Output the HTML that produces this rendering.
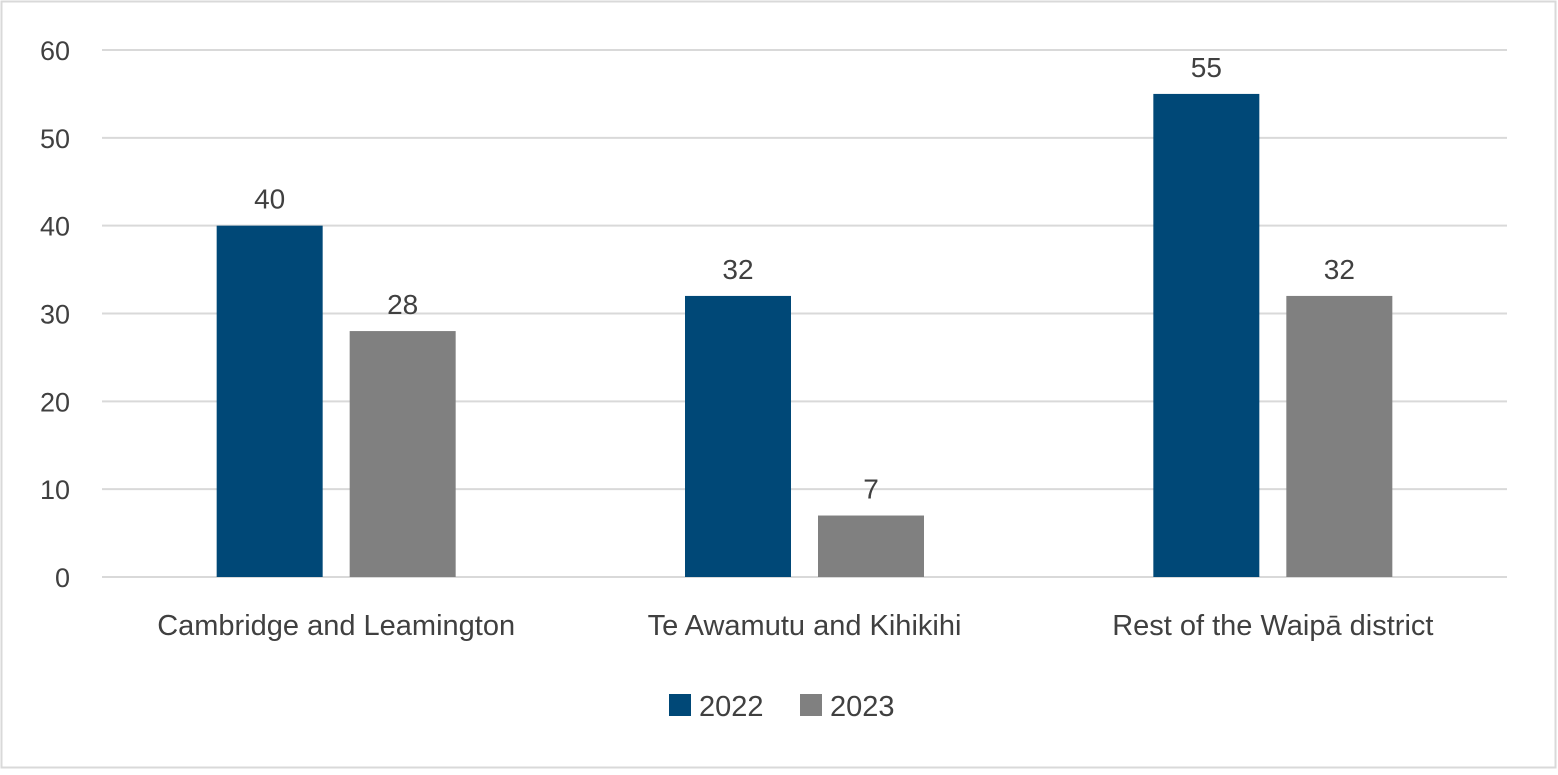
<!DOCTYPE html>
<html><head><meta charset="utf-8"><style>
body{margin:0;background:#fff;}
svg text{font-family:"Liberation Sans",sans-serif;fill:#404040;}
</style></head><body>
<svg id="chart" width="1558" height="770" xmlns="http://www.w3.org/2000/svg">
<rect x="1.5" y="1.5" width="1554" height="766" fill="#fff" stroke="#d9d9d9" stroke-width="2"/>
<g id="grid"></g><g id="bars"></g><g id="labels"></g>
<g>
<rect x="669" y="694" width="22" height="22" fill="#004877"/>
<text x="699" y="716" font-size="29">2022</text>
<rect x="800" y="694" width="22" height="22" fill="#808080"/>
<text x="830" y="716" font-size="29">2023</text>
</g>
</svg>
<script>
const categories=["Cambridge and Leamington","Te Awamutu and Kihikihi","Rest of the Waipā district"];
const series2022=[40,32,55];
const series2023=[28,7,32];
const ticks=[0,10,20,30,40,50,60];
const NS="http://www.w3.org/2000/svg";
const L=102,R=1507,Y0=577,Y60=50;
const y=v=>Y0-(v/60)*(Y0-Y60);
const cw=(R-L)/categories.length;
function mk(t,a,p){const e=document.createElementNS(NS,t);for(const k in a)e.setAttribute(k,a[k]);p.appendChild(e);return e;}
const grid=document.getElementById('grid'),bars=document.getElementById('bars'),labels=document.getElementById('labels');
ticks.forEach(t=>{
const ln=mk('line',{x1:L,x2:R,y1:y(t),y2:y(t),stroke:'#d9d9d9','stroke-width':2},grid);


const tx=mk('text',{x:70,y:y(t)+10,'text-anchor':'end','font-size':27},grid);
tx.textContent=t;


});
const bw=106,gap=27;
categories.forEach((c,i)=>{
const cx=L+cw*(i+0.5);
[[series2022,'#004877',cx-gap/2-bw,'2022'],[series2023,'#808080',cx+gap/2,'2023']].forEach(([s,col,x,yr])=>{
const v=s[i];
const r=mk('rect',{x:x,y:y(v),width:bw,height:Y0-y(v),fill:col},bars);


const t=mk('text',{x:x+bw/2,y:y(v)-17,'text-anchor':'middle','font-size':28},labels);
t.textContent=v;


});
const ct=mk('text',{x:cx,y:635,'text-anchor':'middle','font-size':29},labels);
ct.textContent=c;


});
</script>
</body></html>
